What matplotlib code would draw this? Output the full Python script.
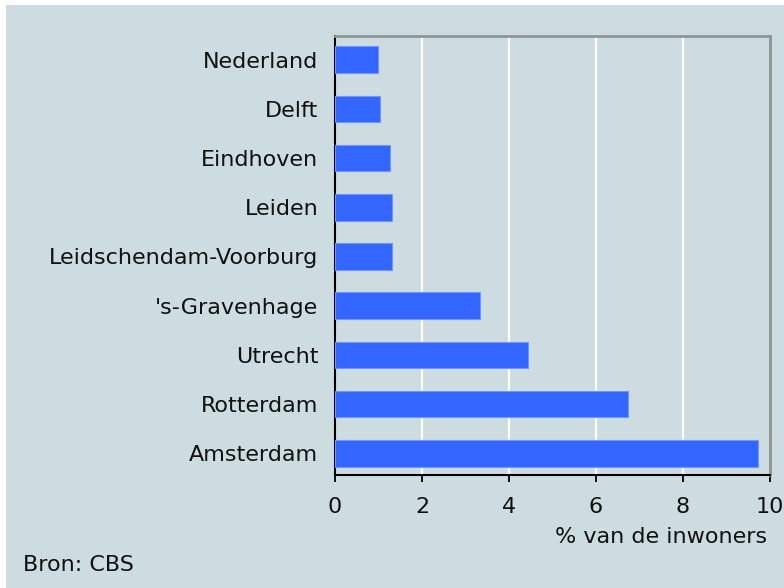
import matplotlib
matplotlib.use("Agg")
import matplotlib.pyplot as plt
from matplotlib.patches import Rectangle

plt.rcParams['font.family'] = 'DejaVu Sans'

# Data: gemeenten en percentage van de inwoners (Bron: CBS)
gemeenten = ['Nederland', 'Delft', 'Eindhoven', 'Leiden', 'Leidschendam-Voorburg',
             "'s-Gravenhage", 'Utrecht', 'Rotterdam', 'Amsterdam']
percentages = [0.99, 1.04, 1.27, 1.31, 1.31, 3.34, 4.44, 6.74, 9.72]
x_ticks = [0, 2, 4, 6, 8, 10]

bg = '#cddce1'
bar_color = '#3366ff'
text_color = '#111111'
fs = 16

fig = plt.figure(figsize=(7.84, 5.88), dpi=100, facecolor=bg)
# white strips along top and left edge
fig.patches.append(Rectangle((0, 1 - 5 / 588), 1, 5 / 588, transform=fig.transFigure,
                             facecolor='white', edgecolor='none', zorder=-1))
fig.patches.append(Rectangle((0, 0), 6 / 784, 1, transform=fig.transFigure,
                             facecolor='white', edgecolor='none', zorder=-1))

ax = fig.add_axes([335 / 784, 1 - 475 / 588, (770 - 335) / 784, (475 - 36) / 588])
ax.set_facecolor(bg)

ypos = range(len(gemeenten))
ax.barh(ypos, percentages, height=0.54, color=bar_color,
        edgecolor='#7095ff', linewidth=0.8, zorder=3)

ax.set_xlim(0, 10)
ax.set_ylim(8.44, -0.48)
ax.set_xticks(x_ticks)
ax.set_xticklabels([str(t) for t in x_ticks])
ax.set_yticks(list(ypos))
ax.set_yticklabels(gemeenten)

for t in x_ticks[1:-1]:
    ax.axvline(t, color='white', lw=1.6, zorder=1)

ax.tick_params(axis='y', length=0, pad=12, labelsize=fs, labelcolor=text_color)
ax.tick_params(axis='x', length=5, width=1.3, pad=11, labelsize=fs,
               labelcolor=text_color, color='black')

for side in ['left', 'bottom']:
    ax.spines[side].set_color('black')
    ax.spines[side].set_linewidth(1.5)
for side in ['top', 'right']:
    ax.spines[side].set_color('#8f9596')
    ax.spines[side].set_linewidth(2)

fig.text(767 / 784, 1 - 537 / 588, '% van de inwoners', ha='right', va='center',
         fontsize=fs, color=text_color)
fig.text(23 / 784, 1 - 565 / 588, 'Bron: CBS', ha='left', va='center',
         fontsize=fs, color=text_color)

fig.savefig('out.png', dpi=100, facecolor=bg)
